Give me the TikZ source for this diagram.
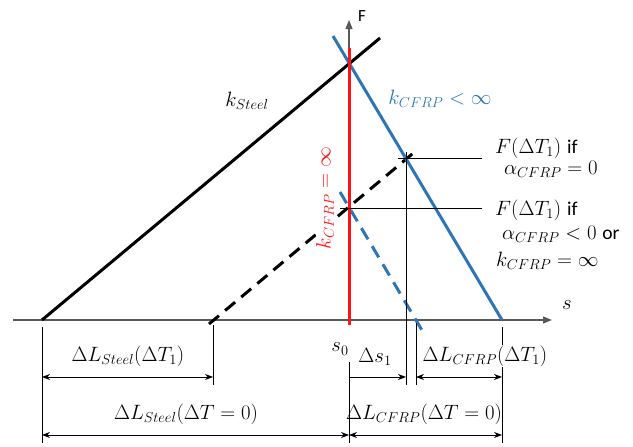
\documentclass[tikz,border=0pt]{standalone}
\usepackage{fontspec}
\newfontfamily\labelfont{Carlito}
\usetikzlibrary{arrows.meta}

\definecolor{cfrpblue}{RGB}{46,117,182}
\definecolor{cfrpred}{RGB}{255,20,20}

\begin{document}
\begin{tikzpicture}[x=1pt, y=-1pt, line join=round]

% ---------------- styles ----------------
\tikzset{
  axisline/.style ={draw=black!65, line width=1.3pt, -{Triangle[length=9pt,width=7pt]}},
  spring/.style   ={line width=3pt},
  shifted/.style  ={line width=3pt, dash pattern=on 13pt off 8pt},
  thin/.style     ={line width=0.8pt},
  dimline/.style  ={line width=0.8pt, {Stealth[length=8pt,width=6pt]}-{Stealth[length=8pt,width=6pt]}},
  lbl/.style      ={inner sep=1pt, font=\fontsize{19.5}{23}\selectfont},
  cond/.style     ={lbl, inner sep=0pt, anchor=base west}
}

\useasboundingbox (0,0) rectangle (633,447);

% ---------------- anchors ----------------
\coordinate (sStart)  at (13,320);
\coordinate (sEnd)    at (552,320);
\coordinate (fBase)   at (349,320);
\coordinate (fTop)    at (349,20);

\coordinate (steelA)  at (42,320);
\coordinate (steelB)  at (380,38);
\coordinate (steelDA) at (209,324);
\coordinate (steelDB) at (417,150);
\coordinate (redA)    at (349,48);
\coordinate (redB)    at (349,325);
\coordinate (cfrpA)   at (333,36);
\coordinate (cfrpB)   at (502,320);
\coordinate (cfrpDA)  at (340,192);
\coordinate (cfrpDB)  at (423,332);

\coordinate (hOneA)   at (398,158);
\coordinate (hOneB)   at (482,158);
\coordinate (hTwoA)   at (340,208);
\coordinate (hTwoB)   at (482,208);

% ---------------- axes ----------------
\draw[axisline] (sStart) -- (sEnd);
\draw[axisline] (fBase) -- (fTop);
\node[lbl, font=\fontsize{17}{20}\selectfont\labelfont] (fLabel) at (362,16) {F};
\node[lbl] (sLabel) at (567,305) {$s$};
\node[lbl] (s0Label) at (340,349) {$s_0$};

% ---------------- characteristic lines ----------------
\draw[spring] (steelA) -- (steelB);
\draw[shifted] (steelDA) -- (steelDB);
\draw[shifted, draw=cfrpblue] (cfrpDA) -- (cfrpDB);
\node[lbl, text=cfrpred, fill=white, inner sep=0pt, rotate=90] (kRigid) at (325,198) {$k_{CFRP} = \infty$};
\draw[spring, draw=cfrpblue] (cfrpA) -- (cfrpB);
\draw[spring, draw=cfrpred] (redA) -- (redB);

\node[lbl] (kSteel) at (247,101) {$k_{Steel}$};
\node[lbl, text=cfrpblue] (kCfrp) at (440,99) {$k_{CFRP} < \infty$};

% ---------------- force levels ----------------
\draw[thin] (hOneA) -- (hOneB);
\draw[thin] (hTwoA) -- (hTwoB);
\node[cond] (fOneA) at (495,153) {$F(\Delta T_1)$ {\labelfont if}};
\node[cond] (fOneB) at (504,174) {$\alpha_{CFRP} = 0$};
\node[cond] (fTwoA) at (495,215) {$F(\Delta T_1)$ {\labelfont if}};
\node[cond] (fTwoB) at (502,239) {$\alpha_{CFRP} < 0$ {\labelfont or}};
\node[cond] (fTwoC) at (496,266) {$k_{CFRP} = \infty$};

% ---------------- extension lines ----------------
\coordinate (vOneT) at (406,152);   \coordinate (vOneB) at (406,385);
\coordinate (vTwoT) at (416,323);   \coordinate (vTwoB) at (416,385);
\coordinate (vStT)  at (213,325);   \coordinate (vStB)  at (213,385);
\coordinate (vSzT)  at (42,327);    \coordinate (vSzB)  at (42,443);
\coordinate (vS0T)  at (349,362);   \coordinate (vS0B)  at (349,443);
\coordinate (vCfT)  at (502,327);   \coordinate (vCfB)  at (502,443);
\foreach \a/\b in {vOneT/vOneB, vTwoT/vTwoB, vStT/vStB, vSzT/vSzB, vS0T/vS0B, vCfT/vCfB}
  \draw[thin] (\a) -- (\b);

% ---------------- dimensions ----------------
\draw[dimline] (42,377) -- (213,377);
\node[lbl, fill=white] (dSteelOne) at (128,356) {$\Delta L_{Steel}(\Delta T_1)$};
\draw[dimline] (42,435) -- (349,435);
\node[lbl, fill=white] (dSteelZero) at (186,414) {$\Delta L_{Steel}(\Delta T = 0)$};
\draw[thin, -{Stealth[length=8pt,width=6pt]}] (349,377) -- (406,377);
\node[lbl] (dsOne) at (375,357) {$\Delta s_1$};
\draw[dimline] (416,377) -- (502,377);
\node[lbl, fill=white] (dCfrpOne) at (485,356) {$\Delta L_{CFRP}(\Delta T_1)$};
\draw[dimline] (349,435) -- (502,435);
\node[lbl] (dCfrpZero) at (424,414) {$\Delta L_{CFRP}(\Delta T = 0)$};

\end{tikzpicture}
\end{document}
